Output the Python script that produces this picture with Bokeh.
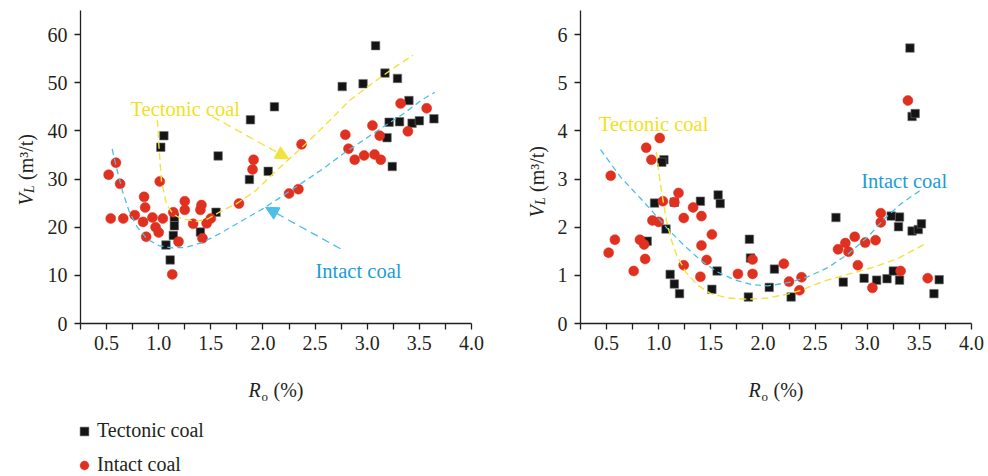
import math
from bokeh.plotting import figure
from bokeh.models import (Range1d, FixedTicker, Label, Arrow, NormalHead,
                          Legend, LegendItem)
from bokeh.layouts import row
from bokeh.embed import file_html
from bokeh.resources import INLINE

# ---------------- data ----------------
# Left panel: Langmuir volume V_L (m3/t) against vitrinite reflectance Ro (%)
left_tect_ro = [3.08, 3.17, 3.29, 2.76, 2.96, 3.40, 2.11, 1.88, 3.21, 3.31, 3.43, 3.50, 3.64,
                3.19, 3.24, 1.05, 1.02, 1.57, 2.05, 1.87, 1.55, 1.15, 1.15, 1.14, 1.40, 1.07, 1.11]
left_tect_vl = [57.7, 52.0, 50.9, 49.2, 49.8, 46.3, 45.0, 42.3, 41.8, 41.9, 41.6, 42.1, 42.5,
                38.6, 32.6, 39.0, 36.6, 34.8, 31.6, 29.9, 23.1, 22.0, 20.3, 18.3, 19.0, 16.3, 13.2]
left_intact_ro = [3.32, 3.57, 3.05, 3.39, 3.12, 2.79, 2.82, 2.88, 2.97, 3.07, 3.13, 2.37, 2.25,
                  2.34, 1.91, 1.90, 1.77, 0.59, 0.52, 0.63, 1.01, 0.86, 0.87, 0.54, 0.66, 0.77,
                  0.85, 0.94, 1.04, 0.97, 1.00, 0.88, 1.14, 1.25, 1.25, 1.41, 1.40, 1.33, 1.46,
                  1.50, 1.19, 1.42, 1.13]
left_intact_vl = [45.7, 44.7, 41.1, 39.9, 39.0, 39.2, 36.3, 34.0, 34.9, 35.1, 34.0, 37.2, 27.0,
                  27.9, 34.0, 32.0, 24.9, 33.4, 30.9, 29.0, 29.5, 26.3, 24.1, 21.8, 21.8, 22.5,
                  21.1, 22.0, 21.8, 20.0, 18.9, 18.0, 23.1, 25.4, 23.6, 24.6, 23.6, 20.7, 20.8,
                  21.8, 17.0, 17.7, 10.2]
# trend curves of the left panel
left_tect_fit_ro = [0.987, 1.003, 1.026, 1.074, 1.138, 1.228, 1.356, 1.468, 1.58, 1.74, 1.933,
                    2.125, 2.269, 2.445, 2.638, 2.83, 3.087, 3.31, 3.439]
left_tect_fit_vl = [42.3, 36.6, 29.7, 24.8, 22.7, 21.7, 21.2, 21.7, 23.1, 24.8, 27.6,
                    31.7, 34.5, 38.0, 42.1, 46.3, 50.5, 53.9, 55.7]
left_intact_fit_ro = [0.554, 0.587, 0.651, 0.715, 0.795, 0.891, 1.003, 1.131, 1.26, 1.42, 1.58,
                      1.772, 1.997, 2.189, 2.381, 2.574, 2.766, 2.958, 3.151, 3.343, 3.535, 3.647]
left_intact_fit_vl = [36.25, 33.1, 27.6, 23.4, 20.0, 17.5, 16.15, 15.7, 15.8, 16.85, 18.6,
                      21.0, 23.8, 26.5, 29.3, 32.1, 35.2, 38.0, 40.8, 43.5, 46.6, 48.0]

# Right panel
right_tect_ro = [3.41, 3.43, 3.46, 1.05, 1.03, 1.57, 1.59, 1.40, 0.96, 1.15, 1.07, 0.89, 1.11,
                 1.15, 1.20, 1.51, 1.56, 1.87, 1.88, 1.86, 2.11, 2.06, 2.27, 2.70, 2.77, 2.97,
                 3.09, 3.19, 3.25, 3.31, 3.23, 3.31, 3.30, 3.43, 3.49, 3.52, 3.69, 3.64]
right_tect_vl = [5.72, 4.30, 4.36, 3.40, 3.35, 2.67, 2.49, 2.54, 2.50, 2.52, 1.96, 1.71, 1.02,
                 0.82, 0.62, 0.71, 1.09, 1.75, 1.36, 0.55, 1.13, 0.75, 0.55, 2.20, 0.86, 0.94,
                 0.90, 0.93, 1.09, 0.90, 2.23, 2.21, 2.01, 1.92, 1.95, 2.07, 0.91, 0.62]
right_intact_ro = [3.39, 1.01, 0.88, 0.93, 0.54, 1.19, 1.04, 1.15, 1.33, 1.24, 1.41, 0.94, 1.00,
                   1.51, 1.41, 1.46, 0.58, 0.82, 0.86, 0.52, 0.87, 0.76, 1.24, 1.40, 1.76, 1.90,
                   1.90, 2.20, 2.25, 2.37, 2.35, 2.72, 2.79, 2.82, 2.88, 2.98, 3.08, 2.91, 3.05,
                   3.13, 3.13, 3.32, 3.58]
right_intact_vl = [4.63, 3.85, 3.65, 3.40, 3.07, 2.71, 2.54, 2.52, 2.41, 2.19, 2.23, 2.14, 2.11,
                   1.85, 1.62, 1.32, 1.74, 1.74, 1.64, 1.47, 1.34, 1.09, 1.21, 0.97, 1.03, 1.03,
                   1.33, 1.24, 0.87, 0.96, 0.69, 1.54, 1.67, 1.49, 1.80, 1.68, 1.73, 1.21, 0.74,
                   2.29, 2.10, 1.09, 0.94]
right_tect_fit_ro = [0.978, 1.003, 1.036, 1.074, 1.122, 1.18, 1.26, 1.372, 1.5, 1.66, 1.853,
                     2.045, 2.237, 2.365, 2.589, 2.846, 3.07, 3.295, 3.545]
right_tect_fit_vl = [3.56, 3.11, 2.63, 2.14, 1.73, 1.38, 1.07, 0.795, 0.62, 0.53, 0.505,
                     0.53, 0.61, 0.69, 0.885, 1.04, 1.175, 1.35, 1.64]
right_intact_fit_ro = [0.442, 0.635, 0.827, 0.987, 1.084, 1.243, 1.404, 1.564, 1.724, 1.885,
                       2.045, 2.269, 2.429, 2.622, 2.814, 3.006, 3.166, 3.327, 3.519]
right_intact_fit_vl = [3.61, 3.04, 2.595, 2.21, 1.97, 1.625, 1.31, 1.07, 0.91, 0.81,
                       0.78, 0.86, 0.97, 1.16, 1.44, 1.80, 2.18, 2.49, 2.78]

# axis ticks
x_ticks = [0.5, 1.0, 1.5, 2.0, 2.5, 3.0, 3.5, 4.0]
x_tick_labels = ["0.5", "1.0", "1.5", "2.0", "2.5", "3.0", "3.5", "4.0"]
x_minor_ticks = [0.25, 0.75, 1.25, 1.75, 2.25, 2.75, 3.25, 3.75]
left_y_ticks = [0, 10, 20, 30, 40, 50, 60]
right_y_ticks = [0, 1, 2, 3, 4, 5, 6]

series_names = ["Tectonic coal", "Intact coal"]

# ---------------- styling ----------------
FONT = "'Liberation Serif', 'Times New Roman', serif"
INK = "#231f20"
BLACK = "#141414"
RED = "#e0301f"
YELLOW_LINE = "#f2e23c"
YELLOW_TEXT = "#f3df1e"
BLUE_LINE = "#4cbfe6"
BLUE_TEXT = "#1b9cd8"

# pixel geometry of the plotting area inside each panel canvas
HEIGHT = 476
AX_LEFT, AX_W = 80, 391          # x axis runs from px 80 to 471
AX_TOP, AX_H = 10, 313           # y axis runs from px 10 down to 323
AX_BOTTOM = AX_TOP + AX_H
X_LO, X_HI = 0.25, 4.0


def ranges(width, y_max):
    kx = AX_W / (X_HI - X_LO)
    ky = AX_H / y_max
    xr = Range1d(X_LO - AX_LEFT / kx, X_LO + (width - AX_LEFT) / kx)
    yr = Range1d(-(HEIGHT - AX_BOTTOM) / ky, y_max + AX_TOP / ky)
    return xr, yr


def make_panel(width, y_max, y_ticks):
    xr, yr = ranges(width, y_max)
    p = figure(width=width, height=HEIGHT, x_range=xr, y_range=yr, title=None,
               output_backend="svg", toolbar_location=None, min_border=0)
    p.outline_line_color = None
    p.grid.visible = False
    p.background_fill_color = "white"
    p.border_fill_color = "white"

    p.xaxis.fixed_location = 0
    p.xaxis.bounds = (X_LO, X_HI)
    p.yaxis.fixed_location = X_LO
    p.yaxis.bounds = (0, y_max)

    p.xaxis.ticker = FixedTicker(ticks=x_ticks, minor_ticks=x_minor_ticks)
    p.xaxis.major_label_overrides = dict(zip(x_ticks, x_tick_labels))
    p.yaxis.ticker = FixedTicker(ticks=y_ticks)
    p.yaxis.major_label_overrides = {t: str(t) for t in y_ticks}

    for ax in (p.xaxis[0], p.yaxis[0]):
        ax.axis_line_color = INK
        ax.axis_line_width = 1.3
        ax.major_tick_line_color = INK
        ax.major_tick_line_width = 1.3
        ax.major_tick_out = 6
        ax.major_tick_in = 0
        ax.major_label_text_font = FONT
        ax.major_label_text_font_size = "20px"
        ax.major_label_text_color = INK
    p.xaxis.minor_tick_line_color = INK
    p.xaxis.minor_tick_line_width = 1.3
    p.xaxis.minor_tick_out = 6
    p.xaxis.minor_tick_in = 0
    p.yaxis.minor_tick_line_color = None
    p.xaxis.major_label_standoff = 6
    p.yaxis.major_label_standoff = 7
    return p


def px_to_data(px, py, y_max):
    """Convert a pixel position on a panel canvas into that panel's data space."""
    x = X_LO + (px - AX_LEFT) * (X_HI - X_LO) / AX_W
    y = (AX_BOTTOM - py) * y_max / AX_H
    return x, y


def add_text(p, px, py, y_max, text, size, color=INK, style="normal", angle=0.0):
    x, y = px_to_data(px, py, y_max)
    p.add_layout(Label(x=x, y=y, text=text, text_font=FONT, text_font_size=size,
                       text_font_style=style, text_color=color, text_align="left",
                       text_baseline="alphabetic", angle=angle, angle_units="rad"))


def axis_titles(p, y_max, ylab_base_x, ylab_start_y):
    # x title: R_o (%)
    add_text(p, 248, 389.5, y_max, "R", "20px", style="italic")
    add_text(p, 261, 396, y_max, "o", "13px")
    add_text(p, 273, 389.5, y_max, "(%)", "20px")
    # y title: V_L (m3/t), reading upward
    a = math.pi / 2
    add_text(p, ylab_base_x, ylab_start_y, y_max, "V", "20px", style="italic", angle=a)
    add_text(p, ylab_base_x + 4, ylab_start_y - 12.5, y_max, "L", "14px",
             style="italic", angle=a)
    add_text(p, ylab_base_x, ylab_start_y - 25.5, y_max, "(m\u00b3/t)", "20px", angle=a)


def draw_series(p, t_ro, t_vl, i_ro, i_vl, tf_ro, tf_vl, if_ro, if_vl):
    sq = p.scatter(t_ro, t_vl, marker="square", size=8.5, fill_color=BLACK,
                   line_color="#707070", line_width=0.6)
    ci = p.scatter(i_ro, i_vl, marker="circle", size=10, fill_color=RED, line_color=RED,
                   line_width=0.5)
    p.line(if_ro, if_vl, line_color=BLUE_LINE, line_width=1.3, line_dash="6 4")
    p.line(tf_ro, tf_vl, line_color=YELLOW_LINE, line_width=1.4, line_dash="7 4")
    return sq, ci


# ---------------- left panel ----------------
LEFT_MAX = 65
left = make_panel(500, LEFT_MAX, left_y_ticks)
sq, ci = draw_series(left, left_tect_ro, left_tect_vl, left_intact_ro, left_intact_vl,
                     left_tect_fit_ro, left_tect_fit_vl, left_intact_fit_ro, left_intact_fit_vl)
add_text(left, 130, 108.3, LEFT_MAX, series_names[0], "20.5px", color=YELLOW_TEXT)
add_text(left, 315, 270.7, LEFT_MAX, series_names[1], "20.5px", color=BLUE_TEXT)

ys, ye = px_to_data(211.7, 116, LEFT_MAX), px_to_data(288.3, 158.3, LEFT_MAX)
left.add_layout(Arrow(x_start=ys[0], y_start=ys[1], x_end=ye[0], y_end=ye[1],
                      line_color=YELLOW_LINE, line_width=1.3, line_dash="8 5",
                      end=NormalHead(size=13, fill_color=YELLOW_LINE, line_color=YELLOW_LINE)))
bs, be = px_to_data(340, 248.3, LEFT_MAX), px_to_data(265, 206.7, LEFT_MAX)
left.add_layout(Arrow(x_start=bs[0], y_start=bs[1], x_end=be[0], y_end=be[1],
                      line_color=BLUE_LINE, line_width=1.3, line_dash="8 5",
                      end=NormalHead(size=13, fill_color=BLUE_LINE, line_color=BLUE_LINE)))
axis_titles(left, LEFT_MAX, 25, 205)

# legend under the left panel
legend = Legend(items=[LegendItem(label=series_names[0], renderers=[sq]),
                       LegendItem(label=series_names[1], renderers=[ci])],
                location=(73, 0), orientation="vertical",
                glyph_width=22, glyph_height=22, label_height=22, spacing=11,
                label_standoff=2, padding=0, margin=0,
                border_line_color=None, background_fill_alpha=0,
                label_text_font=FONT, label_text_font_size="20px",
                label_text_color=INK)
left.add_layout(legend)

# ---------------- right panel ----------------
RIGHT_MAX = 6.5
right = make_panel(488, RIGHT_MAX, right_y_ticks)
draw_series(right, right_tect_ro, right_tect_vl, right_intact_ro, right_intact_vl,
            right_tect_fit_ro, right_tect_fit_vl, right_intact_fit_ro, right_intact_fit_vl)
add_text(right, 98.3, 123.3, RIGHT_MAX, series_names[0], "20.5px", color=YELLOW_TEXT)
add_text(right, 360.7, 180, RIGHT_MAX, series_names[1], "20.5px", color=BLUE_TEXT)
axis_titles(right, RIGHT_MAX, 36, 217)

layout = row(left, right)
open("out.html", "w").write(file_html(layout, INLINE))
